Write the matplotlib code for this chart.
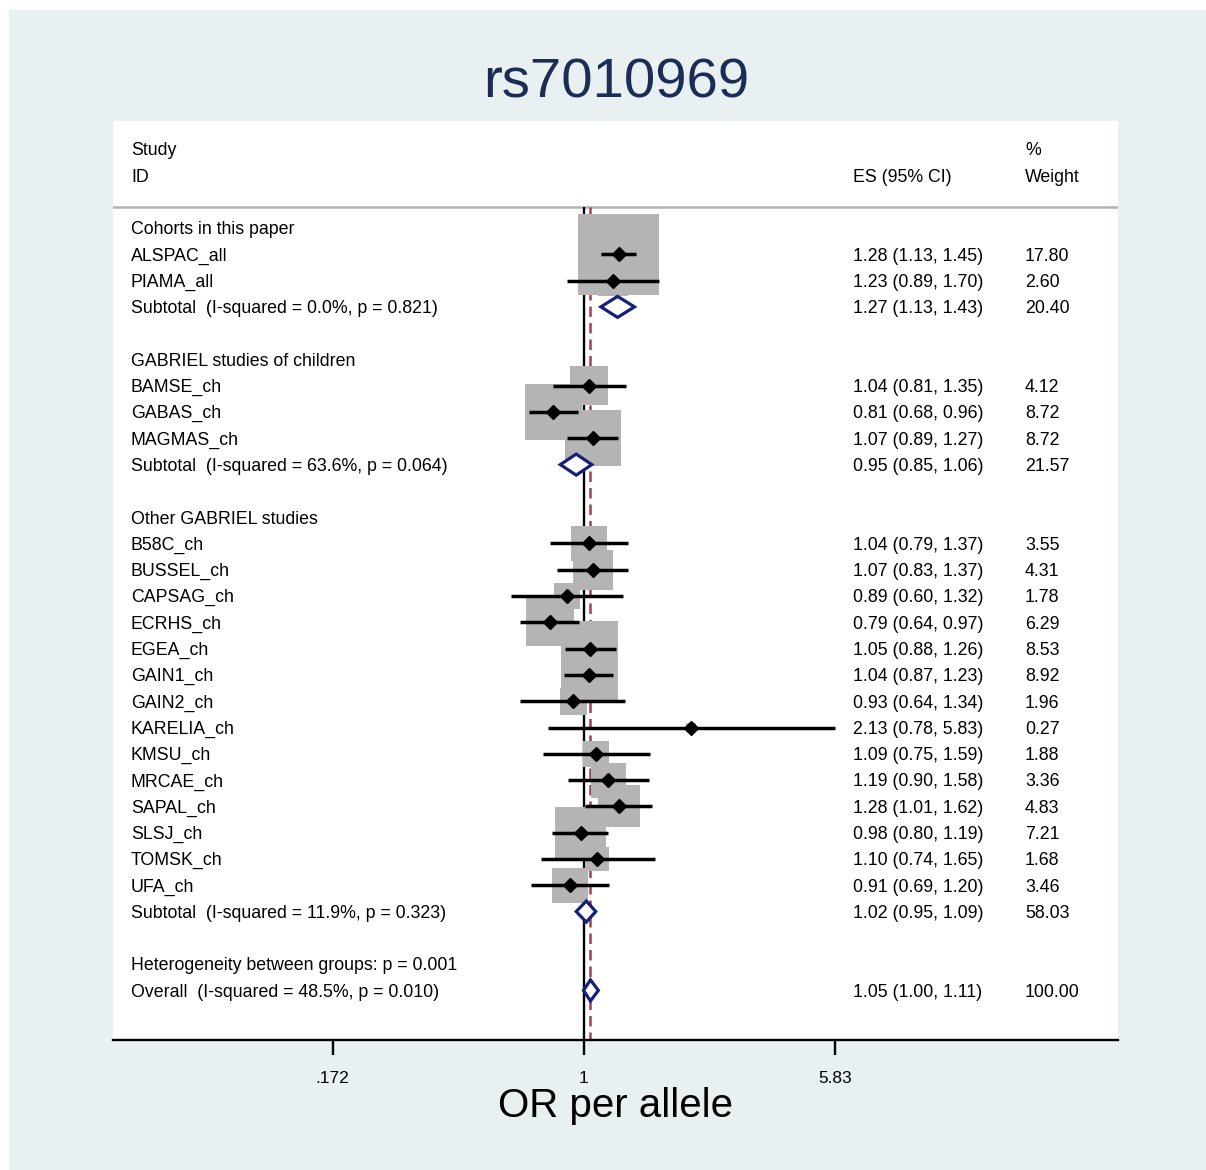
import numpy as np
import matplotlib
matplotlib.use("Agg")
import matplotlib.pyplot as plt
from matplotlib.patches import Rectangle, Polygon
from matplotlib.transforms import blended_transform_factory

plt.rcParams['font.family'] = ['Liberation Sans', 'DejaVu Sans']

# ---------------- data ----------------
group_titles = ["Cohorts in this paper", "GABRIEL studies of children", "Other GABRIEL studies"]

study_ids = [
    ["ALSPAC_all", "PIAMA_all"],
    ["BAMSE_ch", "GABAS_ch", "MAGMAS_ch"],
    ["B58C_ch", "BUSSEL_ch", "CAPSAG_ch", "ECRHS_ch", "EGEA_ch", "GAIN1_ch", "GAIN2_ch",
     "KARELIA_ch", "KMSU_ch", "MRCAE_ch", "SAPAL_ch", "SLSJ_ch", "TOMSK_ch", "UFA_ch"],
]
study_es = [
    [1.28, 1.23],
    [1.04, 0.81, 1.07],
    [1.04, 1.07, 0.89, 0.79, 1.05, 1.04, 0.93, 2.13, 1.09, 1.19, 1.28, 0.98, 1.10, 0.91],
]
study_lo = [
    [1.13, 0.89],
    [0.81, 0.68, 0.89],
    [0.79, 0.83, 0.60, 0.64, 0.88, 0.87, 0.64, 0.78, 0.75, 0.90, 1.01, 0.80, 0.74, 0.69],
]
study_hi = [
    [1.45, 1.70],
    [1.35, 0.96, 1.27],
    [1.37, 1.37, 1.32, 0.97, 1.26, 1.23, 1.34, 5.83, 1.59, 1.58, 1.62, 1.19, 1.65, 1.20],
]
study_wt = [
    [17.80, 2.60],
    [4.12, 8.72, 8.72],
    [3.55, 4.31, 1.78, 6.29, 8.53, 8.92, 1.96, 0.27, 1.88, 3.36, 4.83, 7.21, 1.68, 3.46],
]

sub_es = [1.27, 0.95, 1.02]
sub_lo = [1.13, 0.85, 0.95]
sub_hi = [1.43, 1.06, 1.09]
sub_wt = [20.40, 21.57, 58.03]
sub_i2 = [0.0, 63.6, 11.9]
sub_p = [0.821, 0.064, 0.323]

overall_es, overall_lo, overall_hi, overall_wt = 1.05, 1.00, 1.11, 100.00
overall_i2, overall_p = 48.5, 0.010
between_p = 0.001

xticks = [0.172, 1, 5.83]
xtick_labels = [".172", "1", "5.83"]

# ---------------- layout ----------------
W, H = 1206, 1170
row_px = 26.29
px_per_ln = 142.5
x_one_px = 583.5
box_k = 19.08      # box side in px per sqrt(weight)

fig = plt.figure(figsize=(W / 100, H / 100), dpi=100, facecolor='white')
fig.patches.append(Rectangle((9 / W, 0), 1 - 9 / W, 1 - 10 / H, transform=fig.transFigure,
                             facecolor='#e9f0f2', edgecolor='none', zorder=-5))

ax_l, ax_r, ax_t, ax_b = 113, 1118, 121, 1040
ax = fig.add_axes([ax_l / W, 1 - ax_b / H, (ax_r - ax_l) / W, (ax_b - ax_t) / H])
ax.set_facecolor('white')
ax.set_xscale('log')
ax.set_xlim(np.exp((ax_l - x_one_px) / px_per_ln), np.exp((ax_r - x_one_px) / px_per_ln))
row0_px = 228
ybot = (ax_b - row0_px) / row_px
ytop = (ax_t - row0_px) / row_px
ax.set_ylim(ybot, ytop)

for s in ['top', 'left', 'right']:
    ax.spines[s].set_visible(False)
ax.spines['bottom'].set_linewidth(1.7)
ax.set_yticks([])
ax.set_xticks(xticks)
ax.set_xticklabels(xtick_labels, fontsize=12.4)
ax.xaxis.set_minor_locator(matplotlib.ticker.NullLocator())
ax.tick_params(axis='x', length=11, width=1.7, pad=11, direction='out')

tr = blended_transform_factory(ax.transAxes, ax.transData)
col_label = (131 - ax_l) / (ax_r - ax_l)
col_es = (853 - ax_l) / (ax_r - ax_l)
col_wt = (1025 - ax_l) / (ax_r - ax_l)
fs = 12.8
dy = 0.07   # small downward nudge so text sits on the row centre


def put(x, y, s):
    ax.text(x, y + dy, s, transform=tr, fontsize=fs, va='center')


# header
sep_row = -0.8
put(col_label, -3, "Study")
put(col_label, -2, "ID")
put(col_es, -2, "ES (95% CI)")
put(col_wt, -3, "%")
put(col_wt, -2, "Weight")
ax.axhline(sep_row, color='#b3b3b3', lw=1.8, zorder=1)

# reference lines
ax.vlines(1, sep_row, ybot, color='black', lw=1.7, zorder=1)
ax.vlines(overall_es, sep_row, ybot, color='#a3404c', lw=1.8, linestyles=(0, (4.2, 2.4)), zorder=1)

diamond_color = '#15207a'


def draw_diamond(row, es, lo, hi):
    ax.add_patch(Polygon([(lo, row), (es, row - 0.4), (hi, row), (es, row + 0.4)], closed=True,
                         facecolor='white', edgecolor=diamond_color, lw=2.3, zorder=4))


def es_text(es, lo, hi):
    return f"{es:.2f} ({lo:.2f}, {hi:.2f})"


row = 0
for g in range(len(group_titles)):
    put(col_label, row, group_titles[g])
    row += 1
    for name, es, lo, hi, w in zip(study_ids[g], study_es[g], study_lo[g], study_hi[g], study_wt[g]):
        side = box_k * np.sqrt(w)
        hx = side / 2 / px_per_ln
        hy = side / 2 / row_px
        x0 = es * np.exp(-hx)
        ax.add_patch(Rectangle((x0, row - hy), es * np.exp(hx) - x0, 2 * hy,
                               facecolor='#b4b4b4', edgecolor='none', zorder=2))
        ax.plot([lo, hi], [row, row], color='black', lw=2.5, solid_capstyle='butt', zorder=3)
        ax.plot([es], [row], marker='D', color='black', markersize=7.5, zorder=3)
        put(col_label, row, name)
        put(col_es, row, es_text(es, lo, hi))
        put(col_wt, row, f"{w:.2f}")
        row += 1
    draw_diamond(row, sub_es[g], sub_lo[g], sub_hi[g])
    put(col_label, row, f"Subtotal  (I-squared = {sub_i2[g]:.1f}%, p = {sub_p[g]:.3f})")
    put(col_es, row, es_text(sub_es[g], sub_lo[g], sub_hi[g]))
    put(col_wt, row, f"{sub_wt[g]:.2f}")
    row += 2

put(col_label, row, f"Heterogeneity between groups: p = {between_p:.3f}")
row += 1
draw_diamond(row, overall_es, overall_lo, overall_hi)
put(col_label, row, f"Overall  (I-squared = {overall_i2:.1f}%, p = {overall_p:.3f})")
put(col_es, row, es_text(overall_es, overall_lo, overall_hi))
put(col_wt, row, f"{overall_wt:.2f}")

fig.text(616 / W, 1 - 83 / H, "rs7010969", fontsize=40.6, color='#1c2d55', ha='center', va='center')
fig.text(616 / W, 1 - 1106 / H, "OR per allele", fontsize=29, color='black', ha='center', va='center')

fig.savefig("out.png", dpi=100, facecolor=fig.get_facecolor())
